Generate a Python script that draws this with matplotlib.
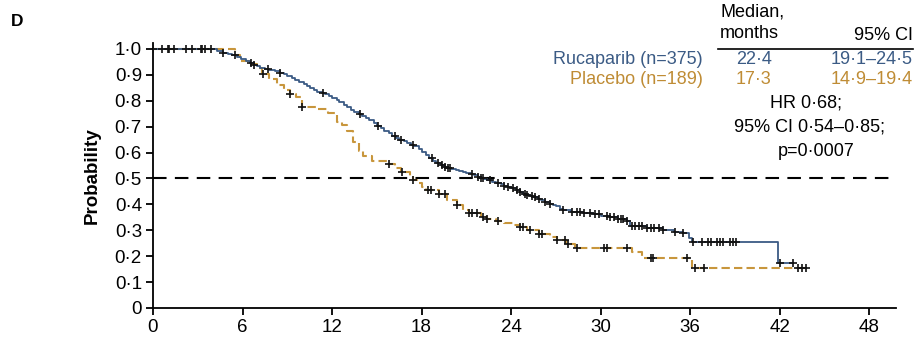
import numpy as np
import matplotlib.pyplot as plt

plt.rcParams['font.family'] = ['Liberation Sans', 'DejaVu Sans']

# Kaplan-Meier steps: event time (months) and survival after that time
ruca_t = [0, 4.3, 4.7, 5.0, 5.3, 5.6, 5.9, 6.2, 6.5, 6.8, 7.0, 7.2, 7.5, 7.8, 8.2, 8.5,
          8.8, 9.0, 9.3, 9.5, 9.8, 10.1, 10.3, 10.5, 10.8, 11.0, 11.3, 11.5, 11.8, 12.0,
          12.3, 12.5, 12.8, 13.0, 13.3, 13.5, 13.8, 14.0, 14.3, 14.5, 14.8, 15.0, 15.3,
          15.5, 15.8, 16.0, 16.3, 16.5, 16.8, 17.0, 17.3, 17.5, 17.8, 18.0, 18.3, 18.5,
          18.8, 19.0, 19.3, 19.5, 19.8, 20.0, 20.3, 20.5, 20.8, 21.0, 21.3, 21.5, 21.8,
          22.0, 22.2, 22.4, 22.7, 23.0, 23.3, 23.5, 23.8, 24.0, 24.3, 24.6, 24.8, 25.0,
          25.3, 25.5, 25.8, 26.0, 26.3, 26.6, 26.8, 27.0, 27.3, 27.5, 28.0, 28.8, 29.5,
          30.0, 30.6, 31.2, 31.8, 32.0, 33.1, 34.2, 34.9, 35.5, 35.9, 36.1, 41.9, 42.9]
ruca_s = [1.0, 0.993, 0.986, 0.98, 0.975, 0.97, 0.962, 0.955, 0.947, 0.94, 0.934, 0.928,
          0.923, 0.918, 0.913, 0.909, 0.902, 0.895, 0.888, 0.88, 0.872, 0.865, 0.856,
          0.848, 0.841, 0.835, 0.83, 0.825, 0.817, 0.81, 0.802, 0.795, 0.785, 0.775,
          0.766, 0.758, 0.75, 0.742, 0.733, 0.724, 0.714, 0.704, 0.695, 0.685, 0.675,
          0.665, 0.657, 0.65, 0.644, 0.638, 0.631, 0.625, 0.613, 0.602, 0.591, 0.58,
          0.569, 0.558, 0.551, 0.545, 0.541, 0.537, 0.533, 0.529, 0.524, 0.52, 0.516,
          0.512, 0.507, 0.503, 0.499, 0.495, 0.488, 0.482, 0.477, 0.472, 0.467, 0.462,
          0.455, 0.447, 0.442, 0.438, 0.433, 0.428, 0.422, 0.417, 0.41, 0.403, 0.397,
          0.392, 0.384, 0.377, 0.372, 0.367, 0.361, 0.357, 0.35, 0.342, 0.335, 0.318,
          0.308, 0.3, 0.293, 0.288, 0.272, 0.255, 0.174, 0.174]
ruca_cens = [0.0, 0.6, 1.1, 1.4, 2.2, 3.2, 3.3, 3.9, 4.7, 5.5, 6.6, 6.8, 7.7, 8.5, 11.4,
             13.9, 15.1, 16.2, 16.6, 17.4, 18.7, 19.1, 19.4, 19.6, 19.8, 19.9, 21.4, 21.8,
             22.0, 22.1, 22.6, 23.1, 23.5, 23.8, 24.1, 24.4, 24.6, 24.9, 25.1, 25.4, 25.6,
             25.9, 26.3, 26.6, 27.5, 28.1, 28.4, 28.6, 28.9, 29.3, 29.6, 29.9, 30.4, 30.6,
             30.9, 31.2, 31.4, 31.5, 31.8, 32.1, 32.3, 32.6, 32.8, 33.1, 33.4, 33.6, 33.9,
             34.2, 35.0, 35.5, 36.2, 36.8, 37.2, 37.4, 37.8, 38.0, 38.2, 38.7, 38.9, 39.1,
             42.0, 42.9]

plac_t = [0, 5.5, 5.8, 6.5, 7.0, 7.3, 7.8, 8.3, 8.8, 9.2, 9.6, 10.0, 11.0, 11.7, 12.3,
          12.7, 13.0, 13.4, 13.8, 14.1, 14.7, 15.8, 16.2, 16.6, 17.2, 17.4, 17.7, 18.0,
          18.3, 19.2, 19.7, 20.4, 20.8, 21.2, 22.0, 22.4, 23.0, 23.5, 24.1, 24.6, 25.1,
          25.9, 26.6, 27.1, 27.7, 28.3, 32.1, 32.8, 36.1, 43.8]
plac_s = [1.0, 0.975, 0.955, 0.943, 0.925, 0.905, 0.885, 0.86, 0.84, 0.827, 0.813, 0.775,
          0.769, 0.752, 0.717, 0.705, 0.685, 0.64, 0.605, 0.588, 0.569, 0.556, 0.54, 0.524,
          0.505, 0.495, 0.484, 0.468, 0.454, 0.442, 0.415, 0.396, 0.38, 0.365, 0.352, 0.345,
          0.336, 0.327, 0.319, 0.313, 0.3, 0.287, 0.275, 0.262, 0.246, 0.232, 0.217, 0.194,
          0.153, 0.153]
plac_cens = [1.0, 2.6, 3.5, 7.4, 9.2, 10.0, 15.8, 16.7, 17.4, 18.4, 18.6, 19.2, 19.6,
             20.4, 21.2, 21.4, 21.7, 22.1, 22.4, 23.1, 24.6, 24.8, 25.3, 25.9, 26.1, 27.1,
             27.6, 27.8, 28.4, 30.2, 30.4, 31.8, 33.4, 33.5, 35.8, 36.3, 36.9, 43.2, 43.5,
             43.8]

table_rows = [('Rucaparib (n=375)', '22·4', '19·1–24·5', '#3b5b85'),
              ('Placebo (n=189)', '17·3', '14·9–19·4', '#bf8c35')]
stats_lines = ['HR 0·68;', '95% CI 0·54–0·85;', 'p=0·0007']

x_ticks = np.arange(0, 49, 6)
y_ticks = np.round(np.arange(0, 1.01, 0.1), 1)
y_labels = ['0' if v == 0 else f'{v:.1f}'.replace('.', '·') for v in y_ticks]


def surv_at(times, surv, pts):
    idx = np.searchsorted(times, pts, side='right') - 1
    return np.asarray(surv)[idx]


W, H = 917, 337
fig = plt.figure(figsize=(W / 100, H / 100), dpi=100)
ax = fig.add_axes([153 / W, 1 - 308 / H, (896 - 153) / W, (308 - 43) / H])

ax.axhline(0.5, color='black', lw=1.5, linestyle=(0, (6.5, 4)), zorder=1)

ax.step(plac_t, plac_s, where='post', color='#c8963c', lw=1.5, linestyle=(0, (4, 2)), zorder=2)
ax.step(ruca_t, ruca_s, where='post', color='#3b5b85', lw=1.3, zorder=3)

ax.plot(plac_cens, surv_at(plac_t, plac_s, plac_cens), '+', color='#111111',
        ms=5.5, mew=1.2, zorder=4)
ax.plot(ruca_cens, surv_at(ruca_t, ruca_s, ruca_cens), '+', color='#111111',
        ms=5.5, mew=1.2, zorder=4)

ax.set_xlim(0, 49.8)
ax.set_ylim(0, 1.023)
ax.set_xticks(x_ticks)
ax.set_xticklabels([str(v) for v in x_ticks])
ax.set_yticks(y_ticks)
ax.set_yticklabels(y_labels)
ax.tick_params(direction='out', length=5, width=1.3, labelsize=13.5, pad=3)
for side in ['top', 'right']:
    ax.spines[side].set_visible(False)
for side in ['left', 'bottom']:
    ax.spines[side].set_linewidth(1.3)
ax.set_ylabel('Probability', fontsize=13.5, fontweight='bold', labelpad=10)

# panel letter
fig.text(11 / W, 1 - 22 / H, 'D', fontsize=12.5, fontweight='bold', va='center')

# median table
fig.text(720 / W, 1 - 12 / H, 'Median,', fontsize=13, va='center')
fig.text(720 / W, 1 - 33 / H, 'months', fontsize=13, va='center')
fig.text(913 / W, 1 - 36 / H, '95% CI', fontsize=13, ha='right', va='center')
fig.add_artist(plt.Line2D([718 / W, 913 / W], [1 - 48.5 / H, 1 - 48.5 / H],
                          color='black', lw=1.2))
for i, (name, med, ci, col) in enumerate(table_rows):
    y = 1 - (60 + 20 * i) / H
    fig.text(703 / W, y, name, fontsize=13, color=col, ha='right', va='center')
    fig.text(736 / W, y, med, fontsize=13, color=col, ha='left', va='center')
    fig.text(913 / W, y, ci, fontsize=13, color=col, ha='right', va='center')

for i, (line, xc) in enumerate(zip(stats_lines, [806, 810, 816])):
    fig.text(xc / W, 1 - (103 + 24.5 * i) / H, line, fontsize=13, ha='center', va='center')

fig.savefig('out.png', dpi=100)
